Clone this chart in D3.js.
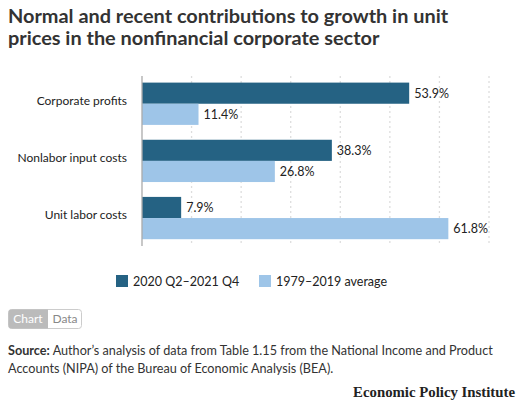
<!DOCTYPE html>
<html><head><meta charset="utf-8">
<script src="https://cdn.jsdelivr.net/npm/d3@7"></script>
<style>
body{margin:0;background:#fff;}
svg{display:block;}
</style></head>
<body>
<svg id="c" width="528" height="403"></svg>
<script>
const categories = ["Corporate profits", "Nonlabor input costs", "Unit labor costs"];
const seriesNames = ["2020 Q2\u20132021 Q4", "1979\u20132019 average"];
const recent = [53.9, 38.3, 7.9];
const average = [11.4, 26.8, 61.8];
const xTicks = [0, 10, 20, 30, 40, 50, 60, 70];
const colors = ["#256283", "#9ec5e8"];

const svg = d3.select("#c");
const font = "'Lato', 'Open Sans', sans-serif";

// title
const title = svg.append("text").attr("x", 8).attr("fill", "#333")
  .style("font-family", font).style("font-weight", "700").style("font-size", "19.9px");
title.append("tspan").attr("x", 8).attr("y", 23).text("Normal and recent contributions to growth in unit");
title.append("tspan").attr("x", 8).attr("y", 45).text("prices in the nonfinancial corporate sector");

const x = d3.scaleLinear().domain([0, 70]).range([142, 489]);
const y = d3.scaleBand().domain(categories).range([82.6, 239.2]).paddingInner(0.26).paddingOuter(0);
const sub = d3.scaleBand().domain([0, 1]).range([0, y.bandwidth()]);

// gridlines
svg.append("g").selectAll("line").data(xTicks.slice(1)).join("line")
  .attr("x1", d => x(d)).attr("x2", d => x(d))
  .attr("y1", 76).attr("y2", 244)
  .attr("stroke", "#ddd").attr("stroke-width", 1.3).attr("stroke-dasharray", "2,3");

const data = categories.map((c, i) => ({c, vals: [recent[i], average[i]]}));
const g = svg.append("g");
data.forEach(d => {
  d.vals.forEach((v, j) => {
    g.append("rect").attr("x", x(0)).attr("y", y(d.c) + sub(j))
      .attr("width", x(v) - x(0)).attr("height", sub.bandwidth()).attr("fill", colors[j]);
    g.append("text").attr("x", x(v) + 5).attr("y", y(d.c) + sub(j) + sub.bandwidth()/2)
      .attr("dy", "0.36em").attr("fill", "#222")
      .style("font-family", font).style("font-size", "12.5px").text(v.toFixed(1) + "%");
  });
});

// axis
const yAxis = d3.axisLeft(y).tickSize(0).tickPadding(15);
const ya = svg.append("g").attr("transform", "translate(142,0)").call(yAxis);
ya.select(".domain").attr("stroke", "#aaa").attr("stroke-width", 1.3).attr("d", "M0,76V246");
ya.selectAll("text").attr("fill", "#222").style("font-family", font).style("font-size", "12px").attr("dy", "0.1em");

// legend
const leg = svg.append("g");
const legX = [116, 259];
seriesNames.forEach((s, i) => {
  leg.append("rect").attr("x", legX[i]).attr("y", 275).attr("width", 12).attr("height", 12).attr("fill", colors[i]);
  leg.append("text").attr("x", legX[i] + 17).attr("y", 281).attr("dy", "0.36em").attr("fill", "#222")
    .style("font-family", font).style("font-size", "12.5px").text(s);
});

// Chart / Data toggle
const tg = svg.append("g");
tg.append("rect").attr("x", 8.5).attr("y", 309.5).attr("width", 73).attr("height", 19).attr("rx", 3)
  .attr("fill", "#fff").attr("stroke", "#ccc");
tg.append("path").attr("d", "M11.5,309.5H48V328.5H11.5A3,3 0 0 1 8.5,325.5V312.5A3,3 0 0 1 11.5,309.5Z").attr("fill", "#bbb");
tg.append("text").attr("x", 28).attr("y", 323).attr("text-anchor", "middle").attr("fill", "#fff")
  .style("font-family", font).style("font-size", "12px").text("Chart");
tg.append("text").attr("x", 65).attr("y", 323).attr("text-anchor", "middle").attr("fill", "#888")
  .style("font-family", font).style("font-size", "12px").text("Data");

// source
const src = svg.append("text").attr("fill", "#333").style("font-family", font).style("font-size", "12.65px");
const l1 = src.append("tspan").attr("x", 8).attr("y", 355);
l1.append("tspan").style("font-weight", "700").text("Source:");
l1.append("tspan").text(" Author\u2019s analysis of data from Table 1.15 from the National Income and Product");
src.append("tspan").attr("x", 8).attr("y", 373).text("Accounts (NIPA) of the Bureau of Economic Analysis (BEA).");

svg.append("text").attr("x", 515).attr("y", 397).attr("text-anchor", "end").attr("fill", "#222")
  .style("font-family", "'Liberation Serif', 'DejaVu Serif', serif").style("font-weight", "700").style("font-size", "14.8px")
  .text("Economic Policy Institute");
</script>
</body></html>
